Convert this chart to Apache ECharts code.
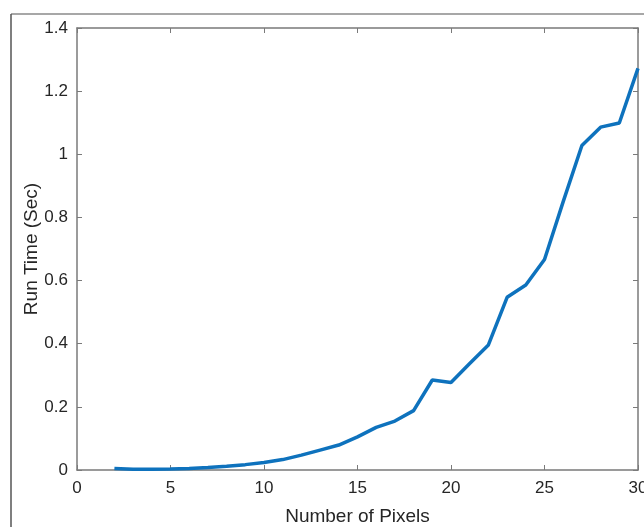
<!DOCTYPE html>
<html>
<head>
<meta charset="utf-8">
<script src="https://cdn.jsdelivr.net/npm/echarts@6/dist/echarts.min.js"></script>
<style>
  html, body { margin: 0; padding: 0; background: #fff; }
  #chart { width: 644px; height: 527px; }
</style>
</head>
<body>
<div id="chart"></div>
<script>
// data
const pixelCounts = [2, 3, 4, 5, 6, 7, 8, 9, 10, 11, 12, 13, 14, 15, 16, 17, 18, 19, 20, 21, 22, 23, 24, 25, 26, 27, 28, 29, 30];
const runTimes = [0.005, 0.002, 0.002, 0.003, 0.005, 0.008, 0.012, 0.017, 0.024, 0.033, 0.047, 0.063, 0.079, 0.105,
    0.135, 0.155, 0.188, 0.285, 0.277, 0.337, 0.396, 0.547, 0.586, 0.667, 0.85, 1.028, 1.086, 1.099, 1.272];

const xTicks = [0, 5, 10, 15, 20, 25, 30];
const yTicks = [0, 0.2, 0.4, 0.6, 0.8, 1, 1.2, 1.4];

const axisGrey = '#7a7a7a';
const fontName = 'Liberation Sans, Arial, sans-serif';
const labelFont = { fontFamily: fontName, fontSize: 17, color: '#262626' };
const nameFont = { fontFamily: fontName, fontSize: 19, color: '#262626' };

function boxAxis(extra) {
    return Object.assign({
        type: 'value',
        axisLine: { show: true, onZero: false, lineStyle: { color: axisGrey, width: 1.5 } },
        axisTick: { show: true, inside: true, length: 5, lineStyle: { color: axisGrey } },
        splitLine: { show: false },
        axisLabel: { show: false }
    }, extra);
}

const chart = echarts.init(document.getElementById('chart'));

chart.setOption({
    animation: false,
    backgroundColor: '#fff',
    grid: { left: 77, right: 6, top: 28, bottom: 57, containLabel: false, outerBoundsMode: 'none' },
    graphic: [
        // outer figure frame (partially cropped in the original)
        { type: 'line', shape: { x1: 11, y1: 14, x2: 644, y2: 14 }, style: { stroke: '#8a8a8a', lineWidth: 1.5 } },
        { type: 'line', shape: { x1: 11, y1: 14, x2: 11, y2: 527 }, style: { stroke: '#555', lineWidth: 1.5 } }
    ],
    xAxis: [
        boxAxis({
            min: xTicks[0], max: xTicks[xTicks.length - 1], interval: 5,
            position: 'bottom',
            axisLabel: Object.assign({ show: true, margin: 10 }, labelFont),
            name: 'Number of Pixels',
            nameLocation: 'middle',
            nameGap: 37,
            nameMoveOverlap: false,
            nameTextStyle: nameFont
        }),
        boxAxis({ min: xTicks[0], max: xTicks[xTicks.length - 1], interval: 5, position: 'top' })
    ],
    yAxis: [
        boxAxis({
            min: yTicks[0], max: yTicks[yTicks.length - 1], interval: 0.2,
            position: 'left',
            axisLabel: Object.assign({
                show: true, margin: 9,
                formatter: v => String(+v.toFixed(1))
            }, labelFont),
            name: 'Run Time (Sec)',
            nameLocation: 'middle',
            nameGap: 36,
            nameMoveOverlap: false,
            nameTextStyle: nameFont
        }),
        boxAxis({ min: yTicks[0], max: yTicks[yTicks.length - 1], interval: 0.2, position: 'right' })
    ],
    series: [{
        type: 'line',
        data: pixelCounts.map((x, i) => [x, runTimes[i]]),
        showSymbol: false,
        lineStyle: { color: '#0e72bd', width: 3.5 },
        clip: false
    }]
});
</script>
</body>
</html>
